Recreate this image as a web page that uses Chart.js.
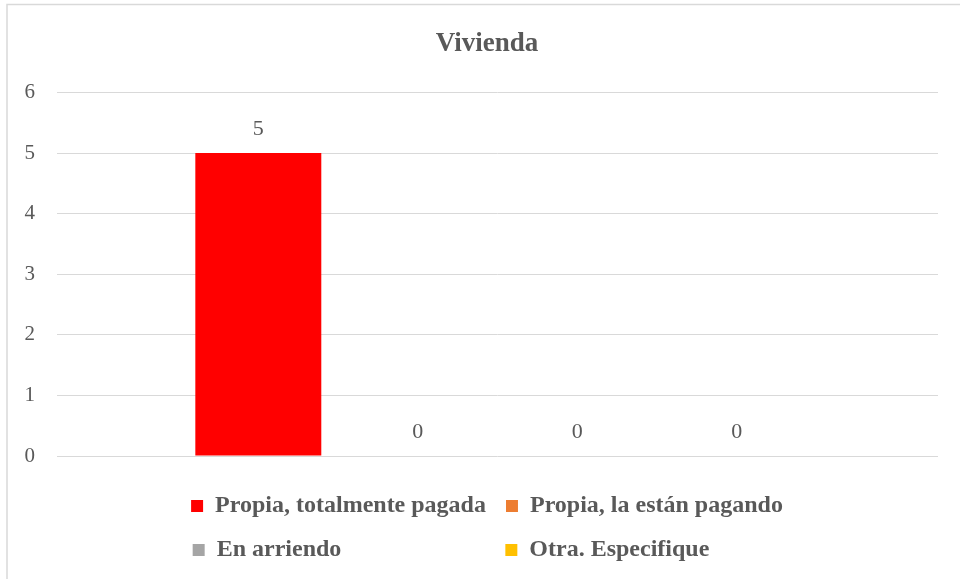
<!DOCTYPE html>
<html>
<head>
<meta charset="utf-8">
<script src="https://cdn.jsdelivr.net/npm/chart.js@4.4.1/dist/chart.umd.min.js"></script>
<style>
  html, body { margin: 0; padding: 0; background: #ffffff; }
  #wrap { position: relative; width: 960px; height: 579px; }
</style>
</head>
<body>
<div id="wrap"><canvas id="c" width="960" height="579"></canvas></div>
<script>
// ---- data ----
const titleText = 'Vivienda';
const categories = [''];
const seriesNames = ['Propia, totalmente pagada', 'Propia, la están pagando', 'En arriendo', 'Otra. Especifique'];
const seriesValues = [5, 0, 0, 0];
const seriesColors = ['#ff0000', '#ed7d31', '#a5a5a5', '#ffc000'];
const yMin = 0, yMax = 6, yStep = 1;

// ---- style ----
const FONT = "'Liberation Serif','Times New Roman',serif";
const TEXT = '#595959';
const GRID = '#d9d9d9';

const datasets = seriesNames.map((name, i) => ({
  label: name,
  data: [seriesValues[i]],
  backgroundColor: seriesColors[i],
  borderWidth: 0,
  barPercentage: 0.79,
  categoryPercentage: 0.724
}));

const frame = {
  id: 'frame',
  beforeDraw(chart) {
    const ctx = chart.ctx;
    ctx.save();
    ctx.fillStyle = '#ffffff';
    ctx.fillRect(0, 0, chart.width, chart.height);
    ctx.strokeStyle = GRID;
    ctx.lineWidth = 1.5;
    ctx.beginPath();
    ctx.moveTo(7, chart.height);
    ctx.lineTo(7, 4.5);
    ctx.lineTo(chart.width, 4.5);
    ctx.stroke();
    ctx.restore();
  }
};

const valueLabels = {
  id: 'valueLabels',
  afterDatasetsDraw(chart) {
    const ctx = chart.ctx;
    ctx.save();
    ctx.font = '22px ' + FONT;
    ctx.fillStyle = TEXT;
    ctx.textAlign = 'center';
    ctx.textBaseline = 'middle';
    chart.data.datasets.forEach((ds, di) => {
      const meta = chart.getDatasetMeta(di);
      meta.data.forEach((el, j) => {
        ctx.fillText(String(ds.data[j]), el.x, el.y - 24);
      });
    });
    ctx.restore();
  }
};

new Chart(document.getElementById('c'), {
  type: 'bar',
  data: { labels: categories, datasets },
  options: {
    responsive: false,
    animation: false,
    layout: { padding: { left: 20, right: 6, top: 0, bottom: 7 } },
    plugins: {
      title: {
        display: true,
        text: titleText,
        color: TEXT,
        font: { family: FONT, size: 27, weight: 'bold' },
        padding: { top: 28, bottom: 32 }
      },
      legend: {
        position: 'bottom',
        labels: {
          color: TEXT,
          font: { family: FONT, size: 24, weight: 'bold' },
          boxWidth: 12,
          boxHeight: 12,
          padding: 20,
          generateLabels(chart) {
            const items = Chart.defaults.plugins.legend.labels.generateLabels(chart);
            const ctx = chart.ctx;
            ctx.save();
            ctx.font = 'bold 24px ' + FONT;
            const colW = [0, 0];
            items.forEach((it, i) => { colW[i % 2] = Math.max(colW[i % 2], ctx.measureText(it.text).width); });
            items.forEach((it, i) => {
              let t = it.text;
              while (ctx.measureText(t + ' ').width <= colW[i % 2] + 3) t += ' ';
              it.text = t;
              it.lineWidth = 0;
            });
            ctx.restore();
            return items;
          }
        }
      },
      tooltip: { enabled: false }
    },
    scales: {
      x: {
        ticks: { display: false },
        grid: { display: false },
        border: { display: false },
        afterFit(s) { s.height = 18; }
      },
      y: {
        min: yMin,
        max: yMax,
        ticks: {
          stepSize: yStep,
          color: TEXT,
          font: { family: FONT, size: 21 },
          padding: 22
        },
        grid: { color: GRID, lineWidth: 1, drawTicks: false },
        border: { display: false },
        afterFit(s) { s.width = 37; }
      },
      yRightSpacer: {
        position: 'right',
        display: true,
        min: yMin,
        max: yMax,
        ticks: { display: false },
        grid: { display: false },
        border: { display: false },
        afterFit(s) { s.width = 16; }
      }
    }
  },
  plugins: [frame, valueLabels]
});
</script>
</body>
</html>
